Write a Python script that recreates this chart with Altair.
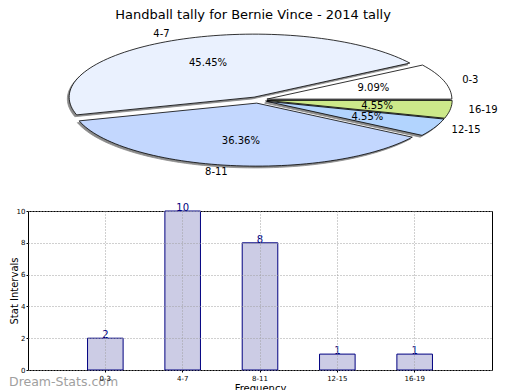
import math
import altair as alt
import pandas as pd

# ---- data ----
categories = ["0-3", "4-7", "8-11", "12-15", "16-19"]
counts = [2, 10, 8, 1, 1]
pie_colors = ["#ffffff", "#eaf1fe", "#c3d7fe", "#b2d4fe", "#cde98a"]
title_text = "Handball tally for Bernie Vince - 2014 tally"
y_ticks = [0, 2, 4, 6, 8, 10]
watermark = "Dream-Stats.com"

# ---- pie geometry (elliptical, exploded, like matplotlib) ----
EXPLODE = 0.05
LABEL_R = 1.1
PCT_R = 0.6
RX, RY = 185.0, 63.0          # pixel radii of the squashed pie
W = 464                       # plot width of both panels
HP = 156                      # pie panel height
CX_PX = 230                   # pie centre from panel left
SH = 1.8                      # shadow offset in px

total = sum(counts)
rows, shadow_rows, labels = [], [], []
start = 0.0
for c, v in zip(categories, counts):
    span = v / total * 2 * math.pi
    mid = start + span / 2
    ox, oy = EXPLODE * math.cos(mid), EXPLODE * math.sin(mid)
    n = max(3, int(math.degrees(span) / 2) + 1)
    pts = [(ox, oy)]
    for k in range(n + 1):
        t = start + span * k / n
        pts.append((ox + math.cos(t), oy + math.sin(t)))
    pts.append((ox, oy))
    for j, (x, y) in enumerate(pts):
        rows.append(dict(cat=c, order=j, x=x, y=y))
        shadow_rows.append(dict(cat=c, order=j, x=x - SH / RX, y=y - SH / RY))
    labels.append(dict(
        cat=c,
        lx=ox + LABEL_R * math.cos(mid), ly=oy + LABEL_R * math.sin(mid),
        px=ox + PCT_R * math.cos(mid), py=oy + PCT_R * math.sin(mid),
        pct=f"{v / total * 100:.2f}%",
        side="left" if math.cos(mid) >= 0 else "right",
    ))
    start += span

pie_df = pd.DataFrame(rows)
shadow_df = pd.DataFrame(shadow_rows)
lab_df = pd.DataFrame(labels)
bar_df = pd.DataFrame({"cat": categories, "count": counts})

xs = alt.Scale(domain=[-CX_PX / RX, (W - CX_PX) / RX], nice=False, zero=False)
ys = alt.Scale(domain=[-HP / 2 / RY, HP / 2 / RY], nice=False, zero=False)

shadow = alt.Chart(shadow_df).mark_line(fill="#8a8a8a", stroke="#8a8a8a", strokeWidth=0.8).encode(
    x=alt.X("x:Q", scale=xs, axis=None),
    y=alt.Y("y:Q", scale=ys, axis=None),
    order="order:Q",
    detail="cat:N",
)
slices = alt.Chart(pie_df).mark_line(stroke="black", strokeWidth=0.8).encode(
    x=alt.X("x:Q", scale=xs, axis=None),
    y=alt.Y("y:Q", scale=ys, axis=None),
    order="order:Q",
    detail="cat:N",
    fill=alt.Fill("cat:N", scale=alt.Scale(domain=categories, range=pie_colors), legend=None),
)
lab_left = alt.Chart(lab_df).transform_filter("datum.side == 'left'").mark_text(
    align="left", baseline="middle", fontSize=10, color="black").encode(
    x=alt.X("lx:Q", scale=xs, axis=None), y=alt.Y("ly:Q", scale=ys, axis=None), text="cat:N")
lab_right = alt.Chart(lab_df).transform_filter("datum.side == 'right'").mark_text(
    align="right", baseline="middle", fontSize=10, color="black").encode(
    x=alt.X("lx:Q", scale=xs, axis=None), y=alt.Y("ly:Q", scale=ys, axis=None), text="cat:N")
pct = alt.Chart(lab_df).mark_text(align="center", baseline="middle", fontSize=10, color="black").encode(
    x=alt.X("px:Q", scale=xs, axis=None), y=alt.Y("py:Q", scale=ys, axis=None), text="pct:N")

pie = alt.layer(shadow, slices, lab_left, lab_right, pct).properties(
    width=W, height=HP, view=alt.ViewBackground(stroke=None))

# ---- bar chart ----
xenc = alt.X("cat:N", sort=categories,
             scale=alt.Scale(paddingInner=0.54, paddingOuter=0.77),
             axis=alt.Axis(title="Frequency", labelAngle=0, labelFontSize=7, labelColor="black",
                           grid=True, gridDash=[1, 2], gridColor="#a0a0a0", bandPosition=0.5,
                           titleFontSize=10, titleFontWeight="normal", titlePadding=2,
                           domain=False, tickSize=2, tickColor="black", zindex=1))
yenc = alt.Y("count:Q", scale=alt.Scale(domain=[0, 10], nice=False),
             axis=alt.Axis(values=y_ticks, title="Stat Intervals", labelFontSize=7, labelColor="black",
                           labelPadding=1, labelOverlap=False,
                           grid=True, gridDash=[1, 2], gridColor="#a0a0a0",
                           titleFontSize=10, titleFontWeight="normal",
                           titleX=-14, titleBaseline="middle",
                           domain=False, tickSize=2, tickColor="black", zindex=1))

bars = alt.Chart(bar_df).mark_bar(fill="#ccccE5", stroke="#000080", strokeWidth=1).encode(x=xenc, y=yenc)
vals = alt.Chart(bar_df).mark_text(baseline="bottom", dy=2, fontSize=10, color="#000080").encode(
    x=xenc, y=yenc, text="count:Q")
wm = alt.Chart(pd.DataFrame({"t": [watermark]})).mark_text(
    align="left", baseline="middle", fontSize=12.5, color="#a0a0a0").encode(
    x=alt.value(-19), y=alt.value(171), text="t:N")

bar = alt.layer(bars, vals, wm).properties(
    width=W, height=159, view=alt.ViewBackground(stroke="black", strokeWidth=1))

chart = alt.vconcat(pie, bar, spacing=33, bounds="flush").properties(
    title=alt.TitleParams(title_text, fontSize=13, fontWeight="normal", anchor="middle", offset=0),
    padding={"top": 1, "left": 0, "right": 0, "bottom": 0},
).configure(font="DejaVu Sans")

chart.save("out.html", embed_options={"renderer": "svg", "actions": False})
